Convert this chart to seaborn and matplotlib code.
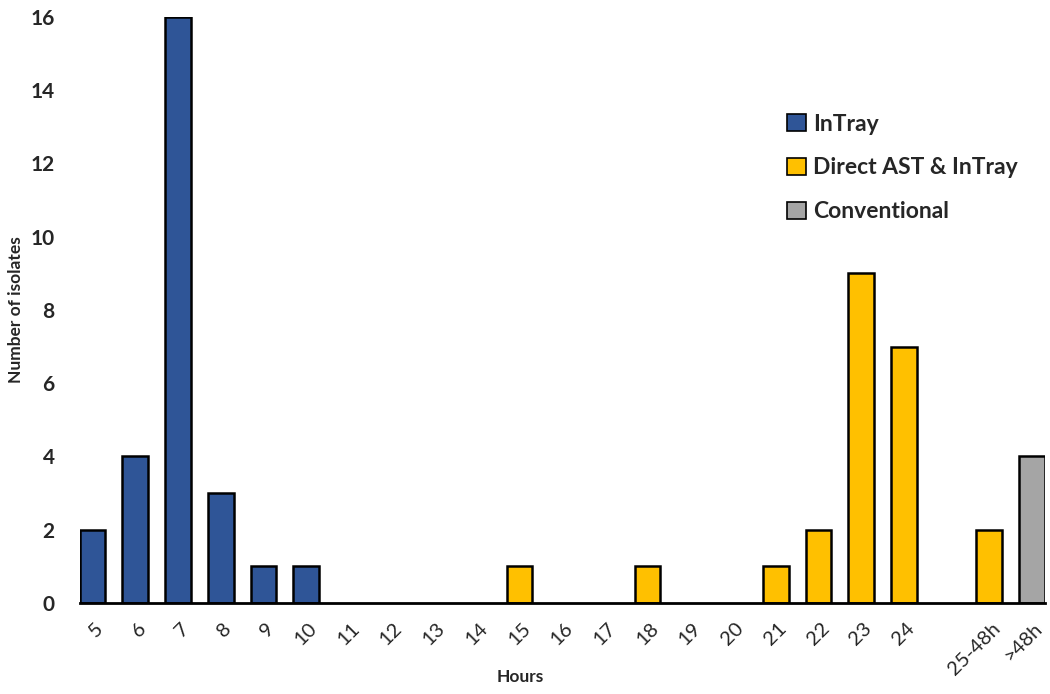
import matplotlib
matplotlib.use("Agg")
import matplotlib.pyplot as plt
import matplotlib.transforms as mtransforms
import seaborn as sns
import pandas as pd
from matplotlib.patches import Patch

hours = ["5", "6", "7", "8", "9", "10", "11", "12", "13", "14", "15", "16",
         "17", "18", "19", "20", "21", "22", "23", "24", " ", "25-48h", ">48h"]
counts = [2, 4, 16, 3, 1, 1, 0, 0, 0, 0, 1, 0, 0, 1, 0, 0, 1, 2, 9, 7, 0, 2, 4]
groups = ["InTray"] * 6 + ["Direct AST & InTray"] * 16 + ["Conventional"]
series = ["InTray", "Direct AST & InTray", "Conventional"]
colors = ["#2F5597", "#FFC000", "#A5A5A5"]

sns.set_style("white")
plt.rcParams["font.family"] = ["Lato", "DejaVu Sans"]

df = pd.DataFrame({"Hours": hours, "Count": counts, "Group": groups})

fig = plt.figure(figsize=(10.5, 6.94), dpi=100)
ax = fig.add_axes([0.076, 0.131, 0.919, 0.845])
sns.barplot(data=df, x="Hours", y="Count", hue="Group", hue_order=series,
            palette=colors, dodge=False, width=0.6, order=hours, saturation=1,
            edgecolor="black", linewidth=1.8, legend=False, ax=ax)

# hide empty (zero-height) bars
for p in ax.patches:
    if p.get_height() == 0:
        p.set_visible(False)

ax.set_ylim(0, 16)
ax.set_xlim(-0.3, len(hours) - 0.7)
ax.set_yticks(range(0, 17, 2))
for lbl in ax.get_yticklabels():
    lbl.set_fontweight("bold")
    lbl.set_fontsize(15)
ax.tick_params(axis="y", length=0, pad=18)
ax.tick_params(axis="x", length=0, pad=12)
ax.set_xticks(range(len(hours)))
ax.set_xticklabels(hours, rotation=45, ha="right", rotation_mode="anchor", fontsize=14.5)
offset = mtransforms.ScaledTranslation(2 / 100, 0, fig.dpi_scale_trans)
for lbl in ax.get_xticklabels():
    lbl.set_transform(lbl.get_transform() + offset)

for s in ["top", "right", "left"]:
    ax.spines[s].set_visible(False)
ax.spines["bottom"].set_linewidth(2)
ax.spines["bottom"].set_color("black")

ax.set_xlabel("Hours", fontweight="bold", fontsize=12.5, va="center")
ax.xaxis.set_label_coords(0.456, -0.126)
ax.set_ylabel("Number of isolates", fontweight="bold", fontsize=12.5, va="center")
ax.yaxis.set_label_coords(-0.066, 0.5)

handles = [Patch(facecolor=c, edgecolor="black", linewidth=1.2, label=s)
           for s, c in zip(series, colors)]
leg = ax.legend(handles=handles, loc="upper left", bbox_to_anchor=(0.712, 0.87),
                frameon=False, handlelength=0.8, handleheight=0.8,
                handletextpad=0.3, labelspacing=1.0,
                prop={"weight": "bold", "size": 16.5})

fig.savefig("out.png", dpi=100)
